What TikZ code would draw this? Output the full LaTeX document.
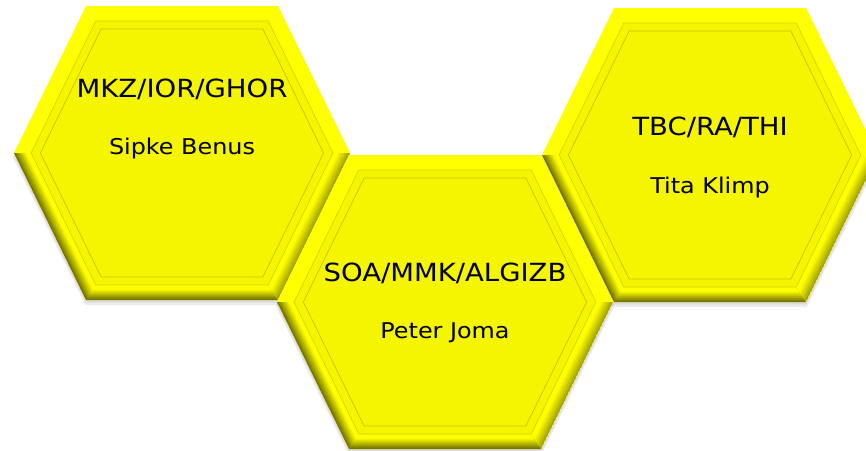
\documentclass[tikz,border=0pt]{standalone}
\usepackage{fontspec}
\setmainfont[FakeStretch=1.1]{DejaVu Sans}
\definecolor{hexbright}{RGB}{255,255,0}
\definecolor{hexface}{RGB}{245,245,0}
\definecolor{hexdark}{RGB}{118,118,0}
\definecolor{hexmid}{RGB}{165,165,0}
\definecolor{hexline}{RGB}{212,212,0}
\definecolor{hexframe}{RGB}{196,196,0}
\newcommand{\hexpath}[1]{({-168*#1},0) -- ({-96*#1},{147*#1}) -- ({96*#1},{147*#1})
 -- ({168*#1},0) -- ({96*#1},{-147*#1}) -- ({-96*#1},{-147*#1}) -- cycle}
\newcommand{\honeycell}[2]{%
\begin{scope}[shift={(#1,#2)}]
\fill[black, opacity=.07, yshift=-2pt] \hexpath{1.004};
\fill[black, opacity=.07, yshift=-4pt] \hexpath{1.008};
\fill[hexbright] \hexpath{1};
\begin{scope}
\clip (0,0)--(-168,0)--(-96,-147)--(96,-147)--cycle;
\foreach \k in {0,...,9}{
\pgfmathsetmacro\s{1-0.0102*\k}
\pgfmathtruncatemacro\dk{max(0,100-15*\k)}
\fill[hexdark!\dk!hexbright] \hexpath{\s};}
\end{scope}
\begin{scope}
\clip (0,0)--(96,-147)--(168,0)--cycle;
\foreach \k in {0,...,9}{
\pgfmathsetmacro\s{1-0.0102*\k}
\pgfmathtruncatemacro\dk{max(0,100-15*\k)}
\fill[hexmid!\dk!hexbright] \hexpath{\s};}
\end{scope}
\fill[hexface] \hexpath{0.898};
\draw[hexline, line width=0.7pt] \hexpath{0.898};
\draw[hexframe, line width=0.7pt] \hexpath{0.843};
\end{scope}}
\tikzset{
  titletext/.style={anchor=base, inner sep=0pt, font=\fontsize{25}{30}\selectfont},
  nametext/.style={anchor=base, inner sep=0pt, font=\fontsize{21.7}{26}\selectfont}
}
\begin{document}
\begin{tikzpicture}[x=1pt, y=1pt]
\useasboundingbox (0,0) rectangle (866,-450);
\clip (0,0) rectangle (866,-450);
\honeycell{182}{-153}
\honeycell{710}{-155}
\honeycell{445}{-302}
\node (mkz) [titletext] at (182,-97) {MKZ/IOR/GHOR};
\node (sipke) [nametext] at (182,-154) {Sipke Benus};
\node (soa) [titletext] at (445,-281) {SOA/MMK/ALGIZB};
\node (peter) [nametext] at (445,-338) {Peter Joma};
\node (tbc) [titletext] at (710,-135) {TBC/RA/THI};
\node (tita) [nametext] at (710,-193) {Tita Klimp};
\end{tikzpicture}
\end{document}
